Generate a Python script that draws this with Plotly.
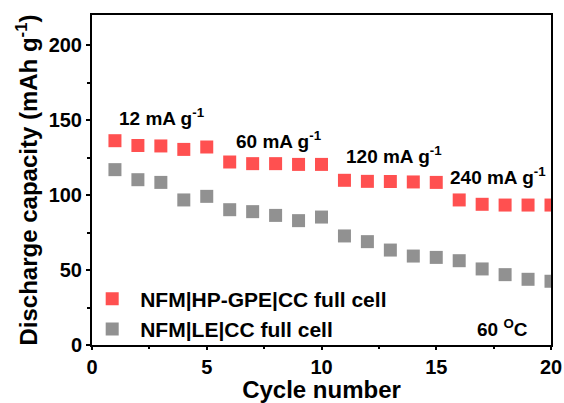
import plotly.graph_objects as go

# Rate capability at 60 °C: discharge capacity per cycle
cycles = list(range(1, 21))
gpe_capacity = [136.2, 133.0, 132.7, 130.4, 132.0,
                122.0, 120.9, 120.9, 120.4, 120.4,
                109.8, 109.1, 109.0, 108.7, 108.4,
                96.7, 93.8, 93.3, 93.3, 93.3]
le_capacity = [116.9, 110.2, 108.4, 96.7, 99.1,
               90.2, 88.9, 86.4, 82.9, 85.3,
               72.7, 68.9, 63.3, 59.3, 58.4,
               56.2, 50.7, 46.9, 43.8, 42.5]
series_names = ["NFM|HP-GPE|CC full cell", "NFM|LE|CC full cell"]
rate_labels = ["12 mA g<sup>-1</sup>", "60 mA g<sup>-1</sup>",
               "120 mA g<sup>-1</sup>", "240 mA g<sup>-1</sup>"]
rate_label_x = [1.1, 6.2, 11.0, 15.5]
rate_label_y = [152, 137, 126.5, 113]

FONT = "Liberation Sans, Arial, sans-serif"
RED = "rgb(255,80,80)"
GRAY = "rgb(145,145,145)"

fig = go.Figure()
fig.add_trace(go.Scatter(x=cycles, y=gpe_capacity, mode="markers",
                         name=series_names[0],
                         marker=dict(symbol="square", size=13, color=RED)))
fig.add_trace(go.Scatter(x=cycles, y=le_capacity, mode="markers",
                         name=series_names[1],
                         marker=dict(symbol="square", size=13, color=GRAY)))

for txt, xx, yy in zip(rate_labels, rate_label_x, rate_label_y):
    fig.add_annotation(x=xx, y=yy, text=txt, showarrow=False,
                       xanchor="left", yanchor="middle",
                       font=dict(family=FONT, size=19, color="black", weight="bold"))

fig.add_annotation(x=19.1, y=11.3, text="60 <sup>O</sup>C", showarrow=False,
                   xanchor="right", yanchor="middle",
                   font=dict(family=FONT, size=19, color="black", weight="bold"))

axis_common = dict(showline=True, linecolor="black", linewidth=2, mirror=True,
                   ticks="outside", tickwidth=2, tickcolor="black",
                   showgrid=False, zeroline=False, automargin=False,
                   tickfont=dict(family=FONT, size=20, color="black", weight="bold"))

fig.update_xaxes(range=[0, 20], dtick=5, tick0=0, ticklen=3,
                 minor=dict(dtick=2.5, ticks="outside", ticklen=2, tickwidth=2, tickcolor="black"),
                 title=dict(text="Cycle number", standoff=0,
                            font=dict(family=FONT, size=24, color="black", weight="bold")),
                 **axis_common)
fig.update_yaxes(range=[0, 220], dtick=50, tick0=0, ticklen=4,
                 minor=dict(dtick=25, ticks="outside", ticklen=3, tickwidth=2, tickcolor="black"),
                 title=dict(text="Discharge capacity (mAh g<sup>-1</sup>)", standoff=4,
                            font=dict(family=FONT, size=24, color="black", weight="bold")),
                 **axis_common)

fig.update_layout(
    width=564, height=403,
    margin=dict(l=92, r=13, t=15, b=58),
    plot_bgcolor="white", paper_bgcolor="white",
    showlegend=True,
    legend=dict(x=-0.017, y=-0.014, xanchor="left", yanchor="bottom",
                bgcolor="rgba(0,0,0,0)", itemwidth=46, tracegroupgap=0,
                font=dict(family=FONT, size=21, color="black", weight="bold")),
)

fig.write_html("out.html")
